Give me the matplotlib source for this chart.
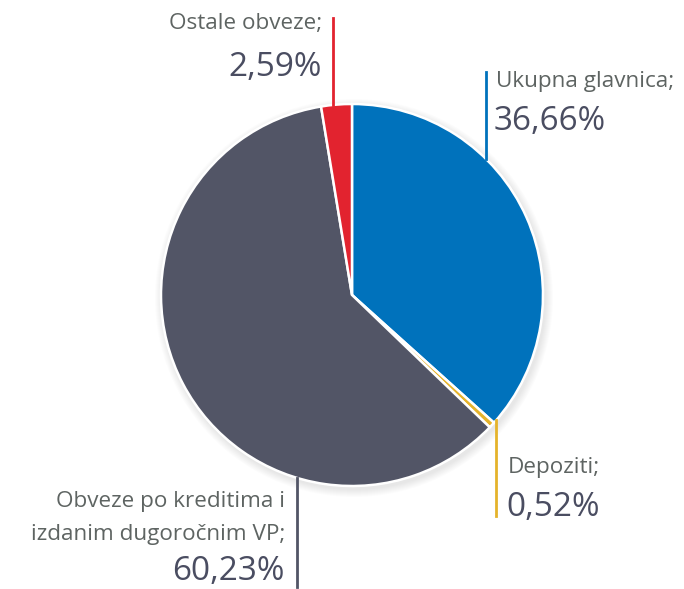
import numpy as np
import matplotlib.pyplot as plt

# Podaci
labels = ["Ukupna glavnica;", "Depoziti;", "Obveze po kreditima i\nizdanim dugoročnim VP;", "Ostale obveze;"]
values = [36.66, 0.52, 60.23, 2.59]
pct_text = ["36,66%", "0,52%", "60,23%", "2,59%"]
colors = ["#0072BC", "#E5B32B", "#525566", "#E2232F"]

W, H = 684, 589
cx, cy, r = 352, H - 295, 191

fig = plt.figure(figsize=(W / 100, H / 100), dpi=100)
ax = fig.add_axes([0, 0, 1, 1])
ax.set_xlim(0, W)
ax.set_ylim(0, H)
ax.set_aspect("equal")
ax.axis("off")

# Ombre légère
for i in range(8):
    shadow = plt.Circle((cx + 2, cy - 3), r + 8 - i, color="#000000", alpha=0.012, lw=0)
    ax.add_patch(shadow)

ax.pie(
    values,
    colors=colors,
    startangle=90,
    counterclock=False,
    center=(cx, cy),
    radius=r,
    wedgeprops=dict(edgecolor="white", linewidth=1.8),
    frame=True,
)
ax.set_xlim(0, W)
ax.set_ylim(0, H)
ax.axis("off")

label_col = "#5E6462"
pct_col = "#4A4D61"
font = "Open Sans"
fs_lab = 16.2
fs_pct = 24


def edge_y(x, upper=True):
    d = np.sqrt(max(r ** 2 - (x - cx) ** 2, 0))
    return cy + d if upper else cy - d


# Ukupna glavnica
ax.plot([486, 486], [H - 72, edge_y(486)], color=colors[0], lw=2)
ax.text(496, H - 81, labels[0], fontsize=fs_lab, color=label_col, family=font, ha="left", va="center")
ax.text(494, H - 122, pct_text[0], fontsize=fs_pct, color=pct_col, family=font, ha="left", va="center")

# Depoziti
ax.plot([496, 496], [edge_y(496, False), H - 516], color=colors[1], lw=2)
ax.text(508, H - 468, labels[1], fontsize=fs_lab, color=label_col, family=font, ha="left", va="center")
ax.text(506, H - 508, pct_text[1], fontsize=fs_pct, color=pct_col, family=font, ha="left", va="center")

# Obveze po kreditima
ax.plot([297, 297], [edge_y(297, False), H - 587], color=colors[2], lw=2)
ax.text(285, H - 518, labels[2], fontsize=fs_lab, color=label_col, family=font, ha="right", va="center",
        linespacing=1.72)
ax.text(285, H - 571, pct_text[2], fontsize=fs_pct, color=pct_col, family=font, ha="right", va="center")

# Ostale obveze
ax.plot([333, 333], [H - 18, edge_y(333)], color=colors[3], lw=2)
ax.text(322, H - 24, labels[3], fontsize=fs_lab, color=label_col, family=font, ha="right", va="center")
ax.text(322, H - 68, pct_text[3], fontsize=fs_pct, color=pct_col, family=font, ha="right", va="center")

fig.savefig("out.png", dpi=100)
